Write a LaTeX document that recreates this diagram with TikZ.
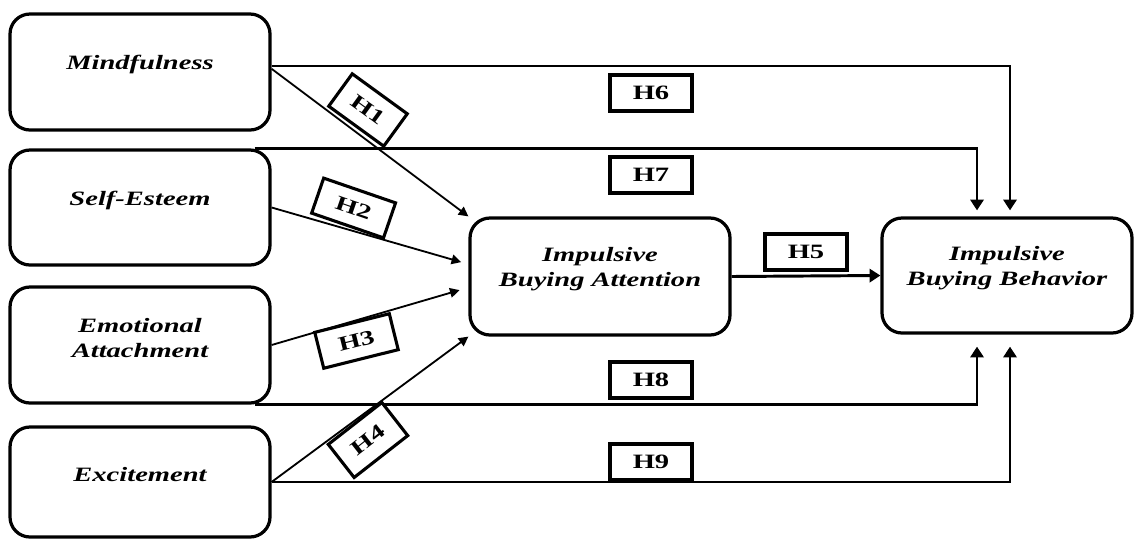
\documentclass[tikz,border=0pt]{standalone}
\usepackage{fontspec}
\setmainfont{Liberation Serif}[FakeStretch=1.4]
\usepackage{tikz}
\usetikzlibrary{arrows.meta, positioning, calc}

\tikzset{
    varbox/.style={draw, line width=2.3pt, rounded corners=0.5cm, minimum width=6.5cm, minimum height=2.9cm},
    vartext/.style={font=\fontsize{14.5}{17.8}\selectfont\bfseries\itshape, align=center, yshift=0.18cm},
    hbox/.style={draw, fill=white, line width=2.2pt, minimum width=2.05cm, minimum height=0.9cm, inner sep=0pt, font=\fontsize{14.5}{16}\selectfont\bfseries},
    thinarrow/.style={line width=1.3pt, -{Triangle[length=2.4mm, width=2.4mm]}},
    thickarrow/.style={line width=2.1pt, -{Triangle[length=2.7mm, width=3.3mm]}}
}

\begin{document}
\begin{tikzpicture}
    \useasboundingbox (0,0) rectangle (28.55,-13.475);

    % Mindfulness
    \node[varbox] (mind) at (3.5,-1.8) {};
    \node[vartext] (mindtxt) at (mind) {Mindfulness};

    % Self-Esteem
    \node[varbox, minimum height=2.875cm] (self) at (3.5,-5.1875) {};
    \node[vartext] (selftxt) at (self) {Self-Esteem};

    % Emotional Attachment
    \node[varbox] (emot) at (3.5,-8.625) {};
    \node[vartext] (emottxt) at (emot) {Emotional\\Attachment};

    % Excitement
    \node[varbox, minimum height=2.75cm] (exci) at (3.5,-12.05) {};
    \node[vartext] (excitxt) at (exci) {Excitement};

    % Impulsive Buying Attention
    \node[varbox, minimum height=2.925cm] (iba) at (15,-6.9125) {};
    \node[vartext] (ibatxt) at (iba) {Impulsive\\Buying Attention};

    % Impulsive Buying Behavior
    \node[varbox, minimum width=6.25cm, minimum height=2.875cm] (ibb) at (25.175,-6.8875) {};
    \node[vartext] (ibbtxt) at (ibb) {Impulsive\\Buying Behavior};

    % H1 - H4
    \draw[thinarrow] ([yshift=0.08cm]mind.east) -- (iba.north west);
    \draw[thinarrow] (self.east) -- ([xshift=-0.18cm, yshift=0.36cm]iba.west);
    \draw[thinarrow] (emot.east) -- ([xshift=-0.22cm, yshift=-0.34cm]iba.west);
    \draw[thinarrow] (exci.east) -- (iba.south west);

    % H5
    \draw[thickarrow] (iba.east) -- (ibb.west);

    % H6 - H9
    \draw[thickarrow, shorten >=0.15cm] ([yshift=0.15cm]mind.east) -| ([xshift=0.075cm]ibb.north);
    \draw[thickarrow, shorten >=0.15cm] ([xshift=-0.425cm]self.north east) -| ([xshift=-0.75cm]ibb.north);
    \draw[thickarrow, shorten >=0.3cm] ([xshift=-0.425cm]emot.south east) -| ([xshift=-0.75cm]ibb.south);
    \draw[thickarrow, shorten >=0.3cm] (exci.east) -| ([xshift=0.075cm]ibb.south);

    % Hypothesis labels
    \node[hbox, rotate=-36, minimum width=1.7cm, minimum height=1cm] (h1) at (9.2,-2.75) {H1};
    \node[hbox, rotate=-19, minimum width=1.9cm, minimum height=0.925cm] (h2) at (8.84,-5.2) {H2};
    \node[hbox, rotate=14, minimum width=1.92cm, minimum height=0.925cm] (h3) at (8.9125,-8.525) {H3};
    \node[hbox, rotate=38, minimum width=1.7cm, minimum height=1.05cm] (h4) at (9.2,-11.0) {H4};
    \node[hbox] (h5) at (20.15,-6.3) {H5};
    \node[hbox] (h6) at (16.275,-2.325) {H6};
    \node[hbox] (h7) at (16.275,-4.375) {H7};
    \node[hbox] (h8) at (16.275,-9.5) {H8};
    \node[hbox] (h9) at (16.275,-11.55) {H9};
\end{tikzpicture}
\end{document}
